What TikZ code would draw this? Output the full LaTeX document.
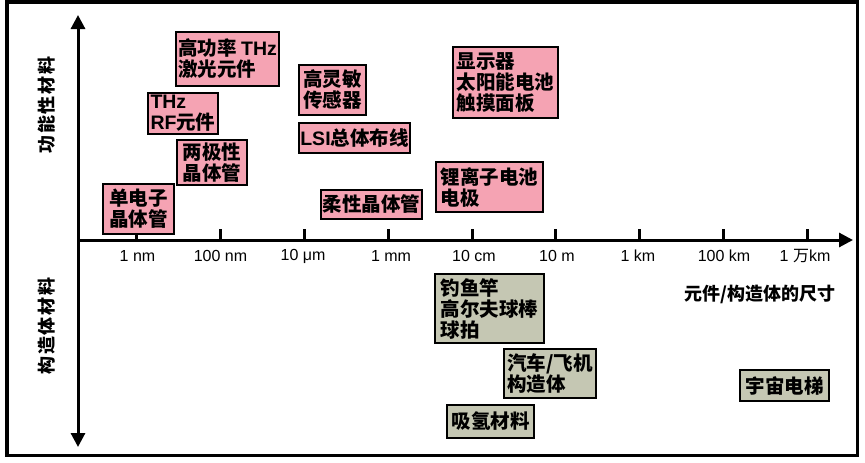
\documentclass[tikz,border=0pt]{standalone}
\usepackage{fontspec}
\setmainfont{Noto Sans CJK SC}
\newfontfamily\lat{Liberation Sans}
\usetikzlibrary{arrows.meta}
\definecolor{pinkbox}{RGB}{245,163,179}
\definecolor{graybox}{RGB}{197,199,179}
\tikzset{
  box/.style={draw=black, line width=1.5pt, align=left, inner sep=0pt,
    font=\bfseries\fontsize{19.5}{21}\selectfont},
  pbox/.style={box, fill=pinkbox},
  gbox/.style={box, fill=graybox},
  ticklabel/.style={font=\lat\fontsize{16}{16}\selectfont, inner sep=0pt},
  axislabel/.style={font=\bfseries\fontsize{18}{18}\selectfont\addfontfeatures{LetterSpace=10}, rotate=90, inner sep=0pt},
  axis/.style={line width=3pt, -{Triangle[width=14pt,length=14pt]}},
  tick/.style={line width=3pt},
}
\begin{document}
\begin{tikzpicture}[x=1pt,y=-1pt]
\useasboundingbox (0,0) rectangle (865,463);
% frame
\draw[line width=3.5pt] (7,2) rectangle (857.5,455.5);
% axes
\coordinate (o) at (78,240);
\coordinate (top) at (78,15);
\coordinate (bot) at (78,447);
\coordinate (right) at (853,240);
\draw[axis] (o) -- (top);
\draw[axis] (o) -- (bot);
\draw[axis] (o) -- (right);
% ticks and labels
\foreach \x/\lab/\lx [count=\i] in {136/1 nm/137.5, 220/100 nm/220.5, 304/10 μm/303, 388/1 mm/391, 472/10 cm/474, 555/10 m/557, 639/1 km/638, 723/100 km/724, 807/{1 {\rmfamily 万}km}/805}{
  \coordinate (t\i) at (\x,240);
  \coordinate (tt\i) at (\x,229);
  \draw[tick] (t\i) -- (tt\i);
  \node[ticklabel] (l\i) at (\lx,256) {\lab};
}
% axis labels
\node[axislabel] (yl1) at (47,105) {功能性材料};
\node[axislabel] (yl2) at (47,326) {构造体材料};
\node[font=\bfseries\fontsize{18}{18}\selectfont, inner sep=0pt] (xl) at (760,294) {元件/构造体的尺寸};
% functional material boxes
\node[pbox, minimum width=103pt, minimum height=54pt] (b1) at (227.5,59) {高功率 {\lat THz}\\激光元件};
\node[pbox, minimum width=70pt, minimum height=41pt] (b2) at (183,113.5) {{\lat THz}\\{\lat RF}元件};
\node[pbox, minimum width=70pt, minimum height=45pt] (b3) at (212,162.5) {两极性\\晶体管};
\node[pbox, minimum width=71pt, minimum height=50pt] (b4) at (138.5,209) {单电子\\晶体管};
\node[pbox, minimum width=67pt, minimum height=50pt] (b5) at (332.5,90) {高灵敏\\传感器};
\node[pbox, minimum width=111pt, minimum height=30pt] (b6) at (354.5,138) {{\lat LSI}总体布线};
\node[pbox, minimum width=101pt, minimum height=29pt] (b7) at (371.5,204.5) {柔性晶体管};
\node[pbox, minimum width=105pt, minimum height=71pt] (b8) at (505.5,82.5) {显示器\\太阳能电池\\触摸面板};
\node[pbox, minimum width=107pt, minimum height=50pt] (b9) at (489.5,187) {锂离子电池\\电极};
% structural material boxes
\node[gbox, minimum width=109pt, minimum height=69pt] (c1) at (489.5,308.5) {钓鱼竿\\高尔夫球棒\\球拍};
\node[gbox, minimum width=92pt, minimum height=49pt] (c2) at (550,373.5) {汽车/飞机\\构造体};
\node[gbox, minimum width=87pt, minimum height=33pt] (c3) at (490.5,421.5) {吸氢材料};
\node[gbox, minimum width=89pt, minimum height=31pt] (c4) at (784.5,385.5) {宇宙电梯};
\end{tikzpicture}
\end{document}
